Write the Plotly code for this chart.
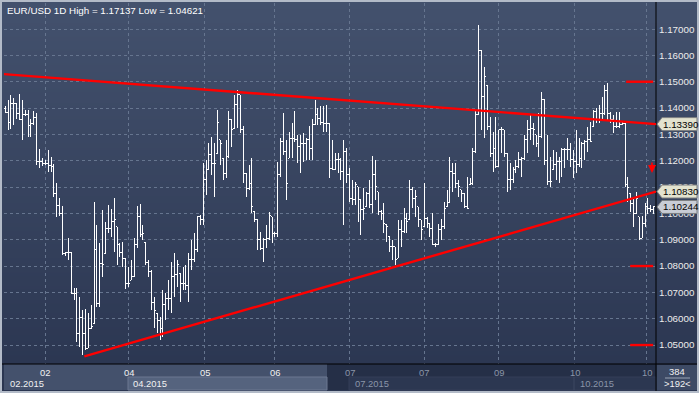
import base64, struct, zlib
import plotly.graph_objects as go

# ---------------- data ----------------
opens = [
    1.1400, 1.1384, 1.1347, 1.1419, 1.1416, 1.1380, 1.1358, 1.1375, 1.1376, 1.1333,
    1.1343, 1.1366, 1.1197, 1.1197, 1.1190, 1.1188, 1.1182, 1.1178, 1.1077, 1.1029,
    1.1000, 1.0849, 1.0851, 1.0853, 1.0697, 1.0694, 1.0545, 1.0603, 1.0545, 1.0488,
    1.0564, 1.0580, 1.0862, 1.0659, 1.0811, 1.0849, 1.0944, 1.0944, 1.0969, 1.0950,
    1.0881, 1.0850, 1.0830, 1.0732, 1.0747, 1.0760, 1.0881, 1.0988, 1.0919, 1.0889,
    1.0813, 1.0779, 1.0660, 1.0621, 1.0595, 1.0564, 1.0653, 1.0678, 1.0678, 1.0760,
    1.0767, 1.0773, 1.0735, 1.0735, 1.0725, 1.0824, 1.0824, 1.0862, 1.0988, 1.0976,
    1.1128, 1.1166, 1.1223, 1.1191, 1.1229, 1.1280, 1.1210, 1.1153, 1.1216, 1.1356,
    1.1324, 1.1413, 1.1451, 1.1318, 1.1150, 1.1096, 1.1112, 1.1007, 1.0976, 1.0900,
    1.0868, 1.0902, 1.0906, 1.0988, 1.0925, 1.0922, 1.1149, 1.1273, 1.1235, 1.1210,
    1.1286, 1.1286, 1.1280, 1.1254, 1.1267, 1.1267, 1.1282, 1.1248, 1.1337, 1.1375,
    1.1362, 1.1347, 1.1343, 1.1343, 1.1170, 1.1166, 1.1204, 1.1204, 1.1159, 1.1235,
    1.1147, 1.1058, 1.1054, 1.1102, 1.1052, 1.1014, 1.1026, 1.1077, 1.1033, 1.1147,
    1.1083, 1.1007, 1.1001, 1.0957, 1.0912, 1.0874, 1.0874, 1.0830, 1.0938, 1.0931,
    1.0982, 1.0976, 1.1090, 1.1058, 1.1026, 1.0976, 1.0950, 1.0982, 1.0963, 1.0944,
    1.0881, 1.0881, 1.0940, 1.0950, 1.1025, 1.1041, 1.1158, 1.1152, 1.1114, 1.1089,
    1.1076, 1.1025, 1.1108, 1.1114, 1.1234, 1.1374, 1.1620, 1.1443, 1.1487, 1.1329,
    1.1228, 1.1247, 1.1177, 1.1317, 1.1317, 1.1228, 1.1127, 1.1127, 1.1165, 1.1177,
    1.1203, 1.1209, 1.1279, 1.1317, 1.1323, 1.1298, 1.1266, 1.1291, 1.1431, 1.1200,
    1.1120, 1.1165, 1.1184, 1.1196, 1.1196, 1.1241, 1.1241, 1.1241, 1.1203, 1.1196,
    1.1184, 1.1209, 1.1266, 1.1272, 1.1279, 1.1329, 1.1386, 1.1355, 1.1380, 1.1380,
    1.1468, 1.1380, 1.1355, 1.1329, 1.1329, 1.1336, 1.1342, 1.1108, 1.1076, 1.1038,
    1.1000, 1.0988, 1.0905, 1.0960, 1.1025, 1.1019, 1.1013,
]
highs = [
    1.1406, 1.1429, 1.1451, 1.1438, 1.1420, 1.1454, 1.1432, 1.1391, 1.1391, 1.1358,
    1.1387, 1.1381, 1.1244, 1.1210, 1.1204, 1.1242, 1.1216, 1.1188, 1.1115, 1.1060,
    1.1029, 1.0855, 1.0906, 1.0855, 1.0716, 1.0716, 1.0682, 1.0633, 1.0636, 1.0621,
    1.0652, 1.1045, 1.0957, 1.0887, 1.1014, 1.0969, 1.1033, 1.1016, 1.1058, 1.0950,
    1.0887, 1.0893, 1.0830, 1.0798, 1.0824, 1.0906, 1.1029, 1.1036, 1.0957, 1.0889,
    1.0824, 1.0786, 1.0684, 1.0621, 1.0606, 1.0709, 1.0697, 1.0747, 1.0817, 1.0849,
    1.0824, 1.0773, 1.0798, 1.0805, 1.0849, 1.0900, 1.0925, 1.0991, 1.0995, 1.1191,
    1.1204, 1.1267, 1.1290, 1.1267, 1.1394, 1.1280, 1.1210, 1.1280, 1.1387, 1.1356,
    1.1451, 1.1470, 1.1451, 1.1330, 1.1153, 1.1185, 1.1210, 1.1007, 1.0976, 1.0931,
    1.0906, 1.0957, 1.1007, 1.0988, 1.0931, 1.1197, 1.1286, 1.1381, 1.1280, 1.1311,
    1.1343, 1.1387, 1.1299, 1.1299, 1.1305, 1.1286, 1.1330, 1.1358, 1.1432, 1.1400,
    1.1406, 1.1406, 1.1413, 1.1343, 1.1280, 1.1229, 1.1229, 1.1210, 1.1280, 1.1248,
    1.1172, 1.1128, 1.1121, 1.1102, 1.1052, 1.1096, 1.1083, 1.1128, 1.1219, 1.1204,
    1.1083, 1.1014, 1.1039, 1.0957, 1.0912, 1.0900, 1.0874, 1.0976, 1.0976, 1.1020,
    1.1001, 1.1128, 1.1102, 1.1090, 1.1026, 1.0976, 1.1115, 1.0988, 1.0963, 1.1001,
    1.0887, 1.0960, 1.0979, 1.1044, 1.1089, 1.1215, 1.1190, 1.1190, 1.1127, 1.1089,
    1.1076, 1.1139, 1.1133, 1.1247, 1.1392, 1.17137, 1.1620, 1.1557, 1.1487, 1.1367,
    1.1310, 1.1367, 1.1317, 1.1329, 1.1317, 1.1228, 1.1190, 1.1177, 1.1203, 1.1234,
    1.1215, 1.1298, 1.1355, 1.1374, 1.1342, 1.1298, 1.1380, 1.1462, 1.1431, 1.1298,
    1.1215, 1.1241, 1.1234, 1.1215, 1.1247, 1.1247, 1.1285, 1.1266, 1.1241, 1.1317,
    1.1285, 1.1272, 1.1279, 1.1329, 1.1348, 1.1392, 1.1399, 1.1411, 1.1443, 1.1487,
    1.1494, 1.1386, 1.1373, 1.1386, 1.1386, 1.1348, 1.1342, 1.1139, 1.1076, 1.1063,
    1.1082, 1.0988, 1.0990, 1.1038, 1.1057, 1.1032, 1.1028,
]
lows = [
    1.1381, 1.1318, 1.1321, 1.1334, 1.1360, 1.1356, 1.1277, 1.1368, 1.1292, 1.1289,
    1.1337, 1.1182, 1.1174, 1.1180, 1.1185, 1.1159, 1.1157, 1.1062, 1.0986, 1.0990,
    1.0843, 1.0839, 1.0824, 1.0697, 1.0671, 1.0513, 1.0494, 1.04621, 1.0481, 1.0488,
    1.0560, 1.0580, 1.0646, 1.0646, 1.0760, 1.0849, 1.0925, 1.0912, 1.0855, 1.0805,
    1.0836, 1.0798, 1.0712, 1.0722, 1.0747, 1.0760, 1.0868, 1.0912, 1.0900, 1.0805,
    1.0760, 1.0633, 1.0564, 1.0545, 1.0519, 1.0532, 1.0595, 1.0633, 1.0623, 1.0684,
    1.0722, 1.0663, 1.0709, 1.0709, 1.0665, 1.0786, 1.0817, 1.0855, 1.0957, 1.0957,
    1.1071, 1.1166, 1.1147, 1.1064, 1.1229, 1.1185, 1.1128, 1.1134, 1.1210, 1.1254,
    1.1324, 1.1324, 1.1305, 1.1115, 1.1064, 1.1090, 1.1001, 1.0969, 1.0862, 1.0862,
    1.0817, 1.0868, 1.0900, 1.0887, 1.0912, 1.0912, 1.1140, 1.1223, 1.1052, 1.1210,
    1.1210, 1.1273, 1.1191, 1.1153, 1.1197, 1.1204, 1.1204, 1.1204, 1.1337, 1.1337,
    1.1337, 1.1311, 1.1311, 1.1134, 1.1166, 1.1166, 1.1153, 1.1128, 1.0957, 1.1115,
    1.1045, 1.1033, 1.1033, 1.0969, 1.0919, 1.0976, 1.1026, 1.1020, 1.1001, 1.1052,
    1.0995, 1.0976, 1.0925, 1.0893, 1.0855, 1.0824, 1.0805, 1.0830, 1.0874, 1.0925,
    1.0925, 1.0976, 1.1020, 1.0988, 1.0950, 1.0900, 1.0950, 1.0944, 1.0912, 1.0881,
    1.0874, 1.0880, 1.0900, 1.0940, 1.1025, 1.1041, 1.1083, 1.1095, 1.1063, 1.1044,
    1.1019, 1.1019, 1.1108, 1.1108, 1.1228, 1.1374, 1.1317, 1.1285, 1.1317, 1.1215,
    1.1158, 1.1171, 1.1177, 1.1228, 1.1215, 1.1083, 1.1089, 1.1114, 1.1152, 1.1171,
    1.1139, 1.1203, 1.1228, 1.1279, 1.1260, 1.1253, 1.1215, 1.1285, 1.1184, 1.1108,
    1.1101, 1.1165, 1.1127, 1.1114, 1.1139, 1.1171, 1.1203, 1.1177, 1.1133, 1.1152,
    1.1177, 1.1171, 1.1203, 1.1234, 1.1272, 1.1329, 1.1342, 1.1342, 1.1355, 1.1373,
    1.1355, 1.1342, 1.1304, 1.1323, 1.1323, 1.1336, 1.1101, 1.1045, 1.1006, 1.0950,
    1.0999, 1.0899, 1.0905, 1.0950, 1.0999, 1.1006, 1.0999,
]
closes = [
    1.1384, 1.1347, 1.1419, 1.1416, 1.1380, 1.1358, 1.1375, 1.1376, 1.1333, 1.1343,
    1.1366, 1.1197, 1.1197, 1.1190, 1.1188, 1.1182, 1.1178, 1.1077, 1.1029, 1.1000,
    1.0849, 1.0851, 1.0853, 1.0697, 1.0694, 1.0545, 1.0603, 1.0545, 1.0488, 1.0564,
    1.0570, 1.0862, 1.0659, 1.0811, 1.0804, 1.0944, 1.0944, 1.0969, 1.0975, 1.0881,
    1.0850, 1.0830, 1.0732, 1.0732, 1.0760, 1.0881, 1.0988, 1.0919, 1.0922, 1.0813,
    1.0779, 1.0660, 1.0633, 1.0595, 1.0564, 1.0653, 1.0678, 1.0678, 1.0760, 1.0767,
    1.0805, 1.0735, 1.0735, 1.0725, 1.0824, 1.0824, 1.0862, 1.0988, 1.0976, 1.1128,
    1.1128, 1.1223, 1.1191, 1.1191, 1.1346, 1.1267, 1.1153, 1.1216, 1.1356, 1.1318,
    1.1413, 1.1451, 1.1318, 1.1150, 1.1096, 1.1112, 1.1026, 1.0976, 1.0900, 1.0868,
    1.0902, 1.0906, 1.0991, 1.0925, 1.0922, 1.1149, 1.1273, 1.1235, 1.1112, 1.1286,
    1.1286, 1.1280, 1.1254, 1.1267, 1.1267, 1.1282, 1.1248, 1.1337, 1.1375, 1.1362,
    1.1347, 1.1343, 1.1343, 1.1170, 1.1166, 1.1204, 1.1204, 1.1159, 1.1235, 1.1147,
    1.1058, 1.1054, 1.1109, 1.1052, 1.1014, 1.1020, 1.1077, 1.1033, 1.1147, 1.1102,
    1.1007, 1.1001, 1.0963, 1.0950, 1.0874, 1.0874, 1.0824, 1.0938, 1.0931, 1.0982,
    1.0969, 1.1090, 1.1058, 1.1064, 1.0976, 1.0938, 1.0982, 1.0976, 1.0944, 1.0881,
    1.0881, 1.0940, 1.0950, 1.1019, 1.1041, 1.1158, 1.1152, 1.1114, 1.1101, 1.1076,
    1.1025, 1.1019, 1.1114, 1.1234, 1.1374, 1.1620, 1.1443, 1.1519, 1.1329, 1.1228,
    1.1247, 1.1177, 1.1317, 1.1317, 1.1228, 1.1127, 1.1127, 1.1165, 1.1177, 1.1203,
    1.1209, 1.1279, 1.1317, 1.1323, 1.1317, 1.1266, 1.1291, 1.1431, 1.1200, 1.1120,
    1.1120, 1.1184, 1.1196, 1.1196, 1.1241, 1.1241, 1.1241, 1.1203, 1.1196, 1.1184,
    1.1209, 1.1266, 1.1272, 1.1279, 1.1272, 1.1386, 1.1355, 1.1380, 1.1380, 1.1468,
    1.1380, 1.1355, 1.1329, 1.1329, 1.1336, 1.1342, 1.1108, 1.1100, 1.1038, 1.1000,
    1.1057, 1.0905, 1.0960, 1.1025, 1.1019, 1.1013, 1.10244,
]
bar_index = list(range(len(closes)))

title_text = "EUR/USD 1D High = 1.17137 Low = 1.04621"
price_ticks = [1.05, 1.06, 1.07, 1.08, 1.09, 1.10, 1.11, 1.12, 1.13, 1.14, 1.15, 1.16, 1.17]

grid_idx = [14, 43, 69.5, 94, 120, 146, 172, 198.5, 223.5]
month_labels = ["02", "04", "05", "06", "07", "07", "09", "10", "10"]
period_idx = [1.0, 44.0, 121.3, 199.7]
period_labels = ["02.2015", "04.2015", "07.2015", "10.2015"]

upper_trend_x = [-0.4, 226.8]
upper_trend_y = [1.1529, 1.1339]
lower_trend_x = [27.6, 226.8]
lower_trend_y = [1.0457, 1.1083]
level_values = [1.15, 1.08, 1.05]
level_start = [216.4, 217.8, 217.8]
level_end = [225.8, 225.8, 225.8]
arrow_idx, arrow_price = 225.4, 1.1153

price_labels = ["1.13390", "1.10830", "1.10244"]
price_label_values = [1.13390, 1.10830, 1.10244]
price_label_fill = ["#e3e3cf", "#e3e3cf", "#c9cdd5"]

info_top, info_bottom = "384", ">192<"

# ---------------- layout geometry ----------------
W, H = 699, 393
L, R, T, B = 4, 43, 3, 29
PW, PH = W - L - R, H - T - B
X_RANGE = [-0.4, 226.8]
Y_RANGE = [1.0428, 1.1799]
FONT = "Liberation Sans, Arial, sans-serif"
FS = 9.4


def px(xp):
    return (xp - L) / PW


def py(yp):
    return (H - B - yp) / PH


def gradient_png(h, top, bottom, w=4):
    raw = b""
    for r in range(h):
        t = r / (h - 1)
        c = bytes(int(round(top[k] + (bottom[k] - top[k]) * t)) for k in range(3))
        raw += b"\x00" + c * w

    def chunk(tag, data):
        return (struct.pack(">I", len(data)) + tag + data +
                struct.pack(">I", zlib.crc32(tag + data) & 0xFFFFFFFF))

    png = (b"\x89PNG\r\n\x1a\n" +
           chunk(b"IHDR", struct.pack(">IIBBBBB", w, h, 8, 2, 0, 0, 0)) +
           chunk(b"IDAT", zlib.compress(raw)) + chunk(b"IEND", b""))
    return "data:image/png;base64," + base64.b64encode(png).decode()


bg_src = gradient_png(388, (67, 81, 109), (42, 53, 80))

fig = go.Figure()
fig.add_trace(go.Ohlc(
    x=bar_index, open=opens, high=highs, low=lows, close=closes,
    increasing=dict(line=dict(color="#ffffff", width=1)),
    decreasing=dict(line=dict(color="#ffffff", width=1)),
    tickwidth=0.5, hoverinfo="skip", showlegend=False,
))

shapes = []


def rect(x0, y0, x1, y1, fill, line=None, layer="below"):
    shapes.append(dict(type="rect", xref="paper", yref="paper",
                       x0=px(x0), x1=px(x1), y0=py(y0), y1=py(y1),
                       fillcolor=fill, layer=layer,
                       line=dict(width=1 if line else 0, color=line or fill)))


# bottom (time) panel
rect(4, 364, 327, 390, "#44516c")
rect(327, 364, 656, 390, "#252f47")
rect(128, 377, 327, 390, "#55637e", "#6c7991")
rect(349, 377, 656, 390, "#2c3751", "#353f58")
shapes.append(dict(type="line", xref="paper", yref="paper", x0=px(574), x1=px(574),
                   y0=py(377), y1=py(390), line=dict(color="#3d4863", width=1), layer="below"))
# right-bottom info box
rect(657, 365, 697, 390, "#3d4a65")
shapes.append(dict(type="line", xref="paper", yref="paper", x0=px(665), x1=px(690),
                   y0=py(378), y1=py(378), line=dict(color="#9aa3b5", width=1), layer="below"))
# black separators
shapes.append(dict(type="line", xref="paper", yref="paper", x0=px(656), x1=px(656),
                   y0=py(2), y1=py(391), line=dict(color="#000000", width=1), layer="above"))
shapes.append(dict(type="line", xref="paper", yref="paper", x0=px(2), x1=px(697),
                   y0=py(364), y1=py(364), line=dict(color="#000000", width=1), layer="above"))

# trend lines and levels
shapes.append(dict(type="line", xref="x", yref="y",
                   x0=upper_trend_x[0], x1=upper_trend_x[1],
                   y0=upper_trend_y[0], y1=upper_trend_y[1],
                   line=dict(color="#ff0000", width=2.4), layer="above"))
shapes.append(dict(type="line", xref="x", yref="y",
                   x0=lower_trend_x[0], x1=lower_trend_x[1],
                   y0=lower_trend_y[0], y1=lower_trend_y[1],
                   line=dict(color="#ff0000", width=2.4), layer="above"))
for v, s, e in zip(level_values, level_start, level_end):
    shapes.append(dict(type="line", xref="x", yref="y", x0=s, x1=e, y0=v, y1=v,
                       line=dict(color="#ff0000", width=2.4), layer="above"))

# price label boxes
for v, fill in zip(price_label_values, price_label_fill):
    shapes.append(dict(type="path", xref="paper", yref="y",
                       xsizemode="pixel", ysizemode="pixel", xanchor=1, yanchor=v,
                       path="M 1 0 L 6 6.5 L 41 6.5 L 41 -6.5 L 6 -6.5 Z",
                       fillcolor=fill, line=dict(color="#7d7f80", width=1), layer="above"))

annotations = [
    dict(text=title_text, xref="paper", yref="paper", x=0, y=1, xanchor="left",
         yanchor="top", xshift=1, yshift=0, showarrow=False,
         font=dict(family=FONT, size=9.8, color="#ffffff")),
]
for t, v in zip(price_labels, price_label_values):
    annotations.append(dict(text=t, xref="paper", yref="y", x=1, y=v, xanchor="left",
                            yanchor="middle", xshift=5, showarrow=False,
                            font=dict(family=FONT, size=FS + 0.4, color="#000000")))
for k, (g, lab) in enumerate(zip(grid_idx, month_labels)):
    annotations.append(dict(text=lab, xref="x", yref="paper", x=g, y=py(372.5),
                            xanchor="center", yanchor="middle", showarrow=False,
                            font=dict(family=FONT, size=FS,
                                      color="#f2f2f2" if k < 4 else "#8b95a8")))
for k, (g, lab) in enumerate(zip(period_idx, period_labels)):
    annotations.append(dict(text=lab, xref="x", yref="paper", x=g, y=py(383.5),
                            xanchor="left", yanchor="middle", showarrow=False,
                            font=dict(family=FONT, size=FS,
                                      color="#f2f2f2" if k < 2 else "#8b95a8")))
annotations.append(dict(text=info_top, xref="paper", yref="paper", x=px(677), y=py(371.5),
                        xanchor="center", yanchor="middle", showarrow=False,
                        font=dict(family=FONT, size=FS, color="#f2f2f2")))
annotations.append(dict(text=info_bottom, xref="paper", yref="paper", x=px(677), y=py(384),
                        xanchor="center", yanchor="middle", showarrow=False,
                        font=dict(family=FONT, size=FS, color="#f2f2f2")))
annotations.append(dict(text="", xref="x", yref="y", x=arrow_idx, y=arrow_price,
                        showarrow=True, ax=0, ay=-12, arrowhead=2, arrowsize=1,
                        arrowwidth=1.6, arrowcolor="#ff0000"))

fig.update_layout(
    width=W, height=H,
    margin=dict(l=L, r=R, t=T, b=B, pad=0),
    paper_bgcolor="#b3bbc8",
    plot_bgcolor="rgba(0,0,0,0)",
    showlegend=False,
    hovermode=False,
    dragmode=False,
    images=[dict(source=bg_src, xref="paper", yref="paper",
                 x=px(2), y=py(2), sizex=695 / PW, sizey=389 / PH,
                 xanchor="left", yanchor="top", sizing="stretch", layer="below")],
    shapes=shapes,
    annotations=annotations,
    xaxis=dict(range=X_RANGE, rangeslider=dict(visible=False), showgrid=True,
               gridcolor="#66758f", griddash="3px,3px", gridwidth=1,
               tickvals=grid_idx, showticklabels=False, ticks="",
               zeroline=False, showline=False, fixedrange=True),
    yaxis=dict(range=Y_RANGE, side="right", tickvals=price_ticks, tickformat=".5f",
               showgrid=True, gridcolor="#66758f", griddash="3px,3px", gridwidth=1,
               ticks="", ticklabelstandoff=2, zeroline=False, showline=False,
               tickfont=dict(family=FONT, size=FS + 0.4, color="#ececec"),
               fixedrange=True),
)

fig.write_html(
    "out.html",
    config={"displayModeBar": False, "staticPlot": True},
    post_script=(
        "document.body.style.margin='0';document.body.style.overflow='hidden';"
        "var st=document.createElement('style');"
        "st.textContent='.trace.ohlc path{shape-rendering:crispEdges;}';"
        "document.head.appendChild(st);"
    ),
)
